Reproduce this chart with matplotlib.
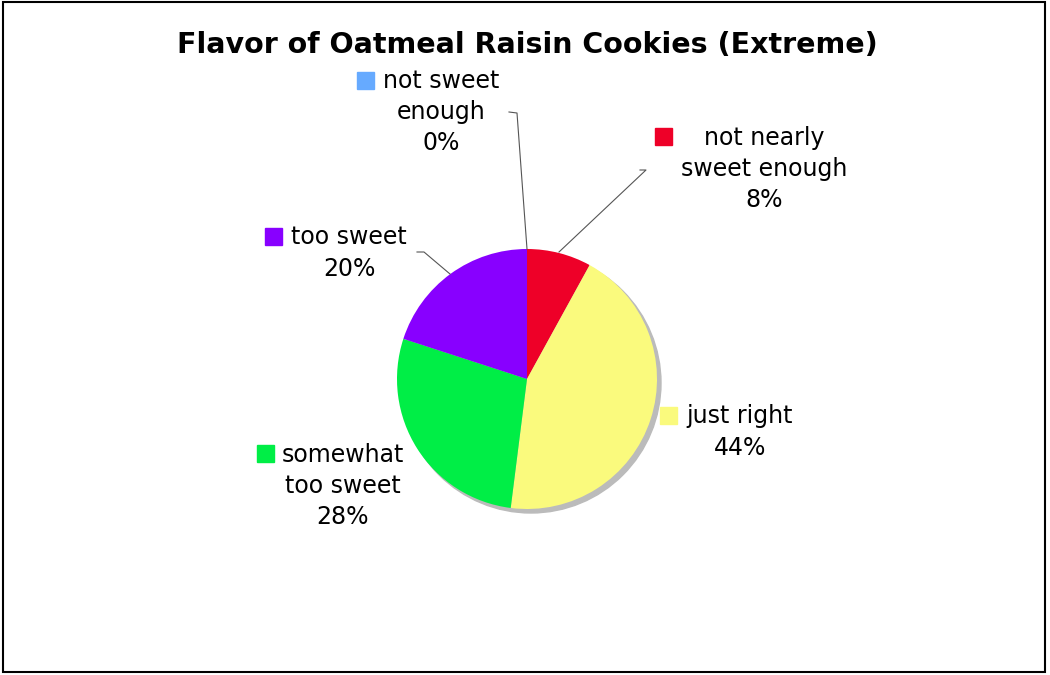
import matplotlib
matplotlib.use("Agg")
import matplotlib.pyplot as plt
from matplotlib.patches import Rectangle, Circle

# survey answers, clockwise from 12 o'clock
categories = ["not nearly\nsweet enough", "just right", "somewhat\ntoo sweet",
              "too sweet", "not sweet\nenough"]
values = [8, 44, 28, 20, 0]
colors = ["#ee0028", "#fafa7d", "#00ee46", "#8800ff", "#66aaff"]
title = "Flavor of Oatmeal Raisin Cookies (Extreme)"

W, H = 1050, 675
fig = plt.figure(figsize=(10.5, 6.75), dpi=100)
ax = fig.add_axes([0, 0, 1, 1])

def Y(py):
    return H - py

cx, cy, r = 527, 379, 130

# drop shadow under the pie
ax.add_patch(Circle((cx + 4, Y(cy + 4)), r, color="#bbbbbb", zorder=1))

wedges, _ = ax.pie(values, colors=colors, startangle=90, counterclock=False,
                   center=(cx, Y(cy)), radius=r, frame=True,
                   wedgeprops=dict(linewidth=0, zorder=2))
ax.set_xlim(0, W)
ax.set_ylim(0, H)
ax.set_aspect("equal")
ax.axis("off")

# label blocks: text center x, text center y, square x, square y (top-left)
label_pos = [
    (764, 169, 655, 128),
    (740, 432, 660, 407),
    (343, 486, 257, 445),
    (349, 253, 265, 228),
    (441, 112, 357, 72),
]
for cat, v, col, (tx, ty, sx, sy) in zip(categories, values, colors, label_pos):
    ax.text(tx, Y(ty), f"{cat}\n{v}%", ha="center", va="center",
            multialignment="center", fontsize=17, linespacing=1.38,
            family="DejaVu Sans", color="black", zorder=5)
    ax.add_patch(Rectangle((sx, Y(sy + 17)), 17, 17, color=col, zorder=5))

# leader lines from labels to the pie edge
leaders = [
    [(640, 170), (646, 170), (559, 252)],
    [(417, 252), (424, 252), (450, 274)],
    [(509, 112), (517, 113), (527, 249)],
]
for pts in leaders:
    xs = [p[0] for p in pts]
    ys = [Y(p[1]) for p in pts]
    ax.plot(xs, ys, color="#555555", linewidth=0.8, zorder=4)

ax.text(527, Y(45), title, ha="center", va="center", fontsize=20.5,
        fontweight="bold", family="DejaVu Sans")

# frame around the whole chart
ax.add_patch(Rectangle((3, Y(672)), 1042, 670, fill=False,
                       edgecolor="black", linewidth=1.5, zorder=6))

fig.savefig("out.png", dpi=100)
